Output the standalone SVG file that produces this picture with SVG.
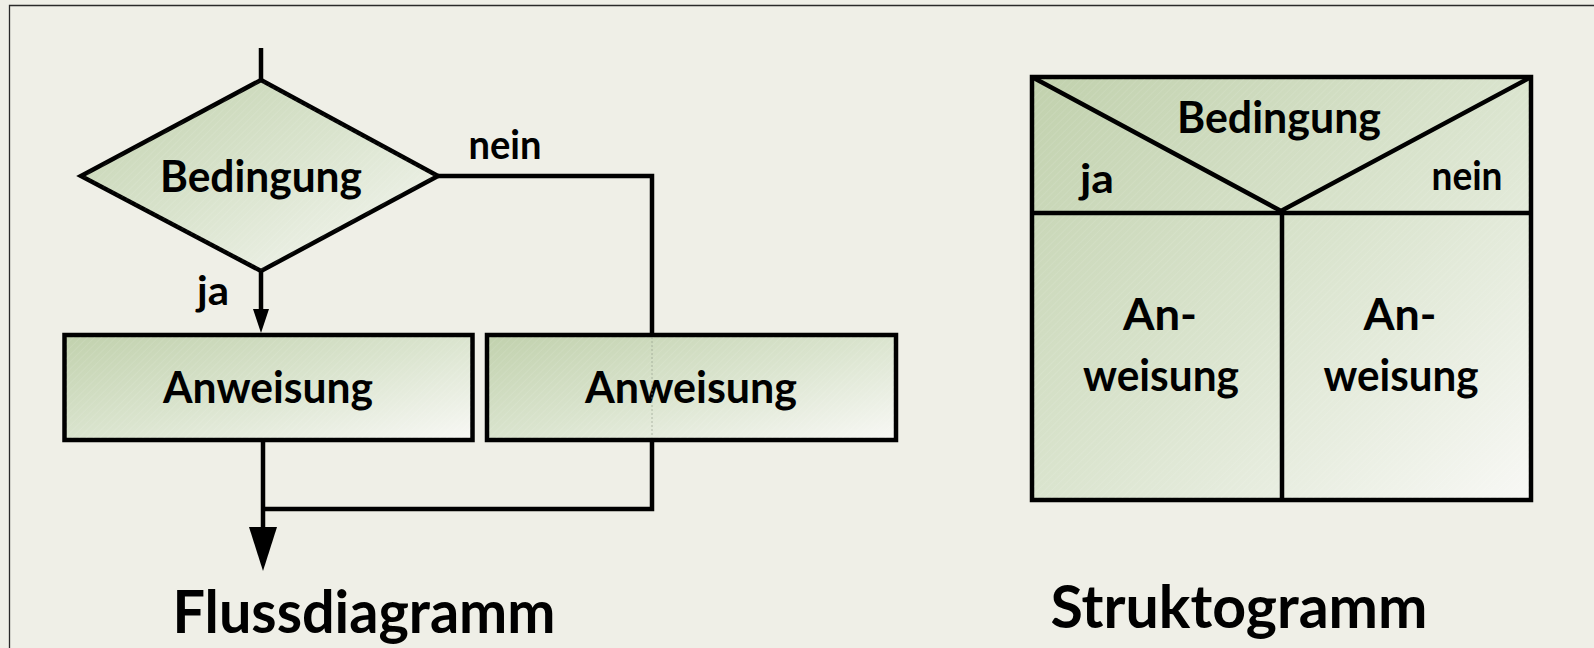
<svg xmlns="http://www.w3.org/2000/svg" width="1594" height="648" viewBox="0 0 1594 648">
  <defs>
    <style>
      .bg { fill: #efefe7; }
      .frame { fill: none; stroke: #2a2a2a; stroke-width: 1.3; }
      .shape { stroke: #000; stroke-width: 4.5; stroke-linejoin: miter; }
      .hatch { fill: url(#hatch); stroke: none; }
      .wire { fill: none; stroke: #000; stroke-width: 4.5; stroke-linecap: butt; stroke-linejoin: miter; }
      .ghost { fill: none; stroke: #8e9686; stroke-width: 1; stroke-dasharray: 2 2; opacity: 0.6; }
      .lbl { font-family: "Lato", "Open Sans", "Liberation Sans", sans-serif; font-weight: 700; fill: #000; }
      .main { font-size: 44px; }
      .branch { font-size: 41px; }
      .title { font-size: 59px; }
    </style>
    <linearGradient id="fillGrad" x1="0" y1="0" x2="1" y2="1">
      <stop offset="0" stop-color="#c1d1ad"/>
      <stop offset="0.5" stop-color="#dae4ce"/>
      <stop offset="1" stop-color="#f8f8f5"/>
    </linearGradient>
    <pattern id="hatch" width="5" height="5" patternUnits="userSpaceOnUse" patternTransform="rotate(45)">
      <line x1="0" y1="0" x2="0" y2="5" stroke="#ffffff" stroke-width="0.8" stroke-opacity="0.22"/>
    </pattern>
    <marker id="arrowSmall" markerUnits="userSpaceOnUse" markerWidth="24" markerHeight="16" refX="0" refY="8" orient="auto" overflow="visible">
      <path d="M0,0 L24,8 L0,16 Z" fill="#000"/>
    </marker>
    <marker id="arrowLarge" markerUnits="userSpaceOnUse" markerWidth="44" markerHeight="28" refX="0" refY="14" orient="auto" overflow="visible">
      <path d="M0,0 L44,14 L0,28 Z" fill="#000"/>
    </marker>
  </defs>

  <!-- page background and frame -->
  <rect class="bg" x="0" y="0" width="1594" height="648"/>
  <path class="frame" d="M9.5,648 V5.5 H1594"/>

  <!-- flowchart: decision -->
  <g id="decision">
    <polygon class="shape" fill="url(#fillGrad)" points="261,80 438,176 261,271 81,176"/>
    <polygon class="hatch" points="261,80 438,176 261,271 81,176"/>
    <text class="lbl main" x="261" y="192" text-anchor="middle" textLength="202" lengthAdjust="spacingAndGlyphs">Bedingung</text>
  </g>

  <!-- flowchart: statement for "ja" -->
  <g id="statement-yes">
    <rect class="shape" fill="url(#fillGrad)" x="64.5" y="335" width="408" height="105"/>
    <rect class="hatch" x="66.5" y="337" width="404" height="101"/>
    <text class="lbl main" x="268" y="403" text-anchor="middle" textLength="210" lengthAdjust="spacingAndGlyphs">Anweisung</text>
  </g>

  <!-- flowchart: statement for "nein" -->
  <g id="statement-no">
    <rect class="shape" fill="url(#fillGrad)" x="487" y="335" width="409" height="105"/>
    <rect class="hatch" x="489" y="337" width="405" height="101"/>
    <text class="lbl main" x="691" y="403" text-anchor="middle" textLength="212" lengthAdjust="spacingAndGlyphs">Anweisung</text>
  </g>

  <!-- flowchart connectors -->
  <g id="connectors">
    <path class="wire" d="M261,48 V80"/>
    <path class="wire" d="M261,271 V309" marker-end="url(#arrowSmall)"/>
    <path class="wire" d="M438,176 H652 V335"/>
    <path class="ghost" d="M652,337 V438"/>
    <path class="wire" d="M652,442 V509 H265"/>
    <path class="wire" d="M263,442 V527" marker-end="url(#arrowLarge)"/>
    <text class="lbl branch" x="213" y="305" text-anchor="middle" textLength="32" lengthAdjust="spacingAndGlyphs">ja</text>
    <text class="lbl branch" x="505" y="159" text-anchor="middle" textLength="73" lengthAdjust="spacingAndGlyphs">nein</text>
  </g>

  <g id="flow-title">
    <text class="lbl title" x="364" y="633" text-anchor="middle" textLength="383" lengthAdjust="spacingAndGlyphs">Flussdiagramm</text>
  </g>

  <!-- Nassi-Shneiderman block -->
  <g id="structogram">
    <rect class="shape" fill="url(#fillGrad)" x="1032" y="77" width="499" height="423"/>
    <rect class="hatch" x="1034" y="79" width="495" height="419"/>
    <path class="wire" d="M1032,77 L1281,211 L1531,77"/>
    <path class="wire" d="M1032,213 H1531"/>
    <path class="wire" d="M1282,213 V500"/>
    <text class="lbl main" x="1279" y="133" text-anchor="middle" textLength="204" lengthAdjust="spacingAndGlyphs">Bedingung</text>
    <text class="lbl branch" x="1097" y="193" text-anchor="middle" textLength="34" lengthAdjust="spacingAndGlyphs">ja</text>
    <text class="lbl branch" x="1467" y="190" text-anchor="middle" textLength="71" lengthAdjust="spacingAndGlyphs">nein</text>
    <text class="lbl main" x="1160" y="330" text-anchor="middle" textLength="74" lengthAdjust="spacingAndGlyphs">An-</text>
    <text class="lbl main" x="1161" y="391" text-anchor="middle" textLength="156" lengthAdjust="spacingAndGlyphs">weisung</text>
    <text class="lbl main" x="1400" y="330" text-anchor="middle" textLength="73" lengthAdjust="spacingAndGlyphs">An-</text>
    <text class="lbl main" x="1401" y="391" text-anchor="middle" textLength="155" lengthAdjust="spacingAndGlyphs">weisung</text>
  </g>

  <g id="structogram-title">
    <text class="lbl title" x="1239" y="628" text-anchor="middle" textLength="377" lengthAdjust="spacingAndGlyphs">Struktogramm</text>
  </g>
</svg>
